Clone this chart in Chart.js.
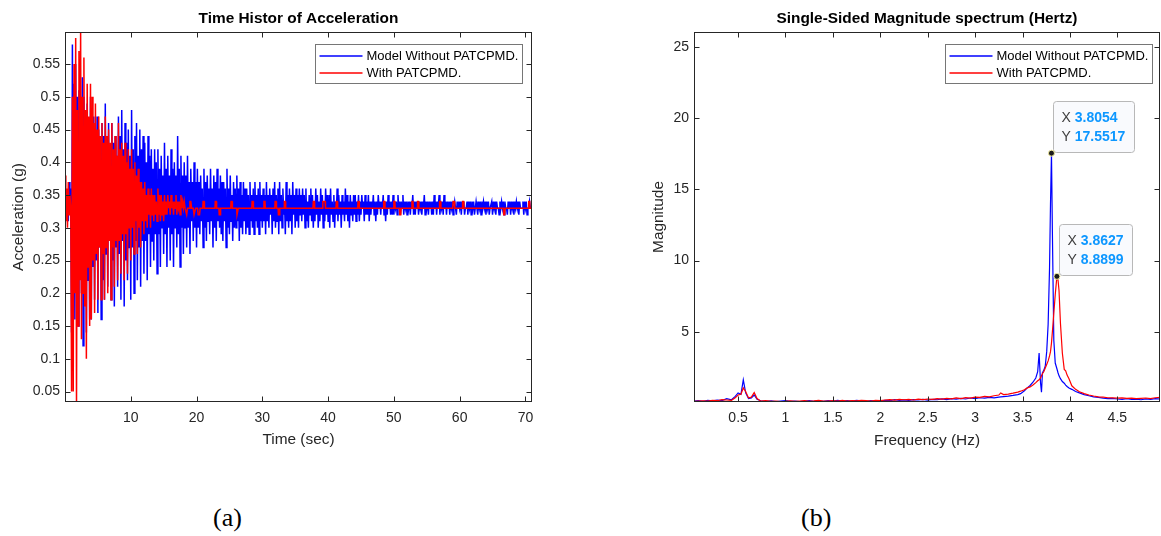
<!DOCTYPE html>
<html><head><meta charset="utf-8">
<script src="https://cdn.jsdelivr.net/npm/chart.js@4.4.1/dist/chart.umd.min.js"></script>
<style>
html,body{margin:0;padding:0;background:#fff;width:1161px;height:536px;overflow:hidden;}
#c1{position:absolute;left:0;top:0;}
#c2{position:absolute;left:600px;top:0;}
.cap{position:absolute;font-family:"Liberation Serif","Times New Roman",serif;font-size:26px;line-height:26px;color:#000;top:505px;}
</style></head><body>
<canvas id="c1" width="560" height="470"></canvas>
<canvas id="c2" width="561" height="470"></canvas>
<div class="cap" style="left:213px">(a)</div>
<div class="cap" style="left:801px">(b)</div>
<script>
// ---------- common ----------
const seriesNames = ['Model Without PATCPMD.', 'With PATCPMD.'];
const seriesColors = ['#0000ff', '#ff0000'];

// ---------- (a) time history: samples every timeStep seconds from t = 0 ----------
const timeStep = 0.125;
const timeTicks = [10, 20, 30, 40, 50, 60, 70];
const accelTicks = [0.05, 0.1, 0.15, 0.2, 0.25, 0.3, 0.35, 0.4, 0.45, 0.5, 0.55];

const accelWithout = [
0.33,0.34,0.32,0.35,0.31,0.37,0.32,0.36,0.14,0.58,0.20,0.52,0.16,0.55,0.22,0.50,
0.15,0.51,0.25,0.48,0.20,0.53,0.12,0.50,0.26,0.47,0.14,0.49,0.22,0.45,0.16,0.50,
0.16,0.46,0.24,0.47,0.19,0.42,0.25,0.47,0.17,0.45,0.27,0.43,0.16,0.46,0.22,0.44,
0.19,0.49,0.26,0.44,0.21,0.46,0.28,0.42,0.19,0.46,0.25,0.43,0.18,0.44,0.27,0.41,
0.21,0.47,0.26,0.44,0.19,0.48,0.28,0.42,0.18,0.46,0.25,0.43,0.22,0.45,0.27,0.41,
0.19,0.48,0.27,0.42,0.20,0.44,0.28,0.46,0.22,0.41,0.27,0.45,0.21,0.42,0.28,0.44,
0.23,0.43,0.28,0.40,0.22,0.44,0.29,0.41,0.24,0.42,0.28,0.39,0.25,0.42,0.29,0.40,
0.23,0.42,0.29,0.39,0.24,0.41,0.30,0.38,0.26,0.43,0.29,0.39,0.24,0.41,0.30,0.38,
0.25,0.42,0.29,0.39,0.24,0.40,0.30,0.38,0.27,0.44,0.29,0.39,0.24,0.41,0.30,0.38,
0.26,0.40,0.30,0.38,0.27,0.41,0.30,0.37,0.26,0.39,0.31,0.37,0.28,0.40,0.30,0.37,
0.27,0.39,0.30,0.37,0.29,0.38,0.31,0.36,0.27,0.39,0.30,0.37,0.28,0.38,0.31,0.36,
0.29,0.39,0.31,0.36,0.27,0.38,0.30,0.37,0.28,0.39,0.31,0.36,0.30,0.38,0.29,0.37,
0.28,0.37,0.31,0.36,0.27,0.39,0.30,0.36,0.29,0.38,0.31,0.35,0.28,0.37,0.30,0.36,
0.30,0.38,0.31,0.36,0.28,0.37,0.30,0.35,0.29,0.37,0.31,0.36,0.29,0.36,0.30,0.35,
0.29,0.37,0.31,0.35,0.30,0.36,0.29,0.37,0.31,0.35,0.30,0.36,0.29,0.37,0.31,0.35,
0.30,0.36,0.31,0.35,0.29,0.37,0.31,0.35,0.30,0.36,0.32,0.35,0.29,0.36,0.31,0.37,
0.30,0.35,0.31,0.36,0.29,0.37,0.31,0.35,0.30,0.36,0.32,0.34,0.29,0.37,0.31,0.35,
0.30,0.36,0.31,0.35,0.29,0.37,0.32,0.35,0.30,0.36,0.31,0.35,0.30,0.36,0.32,0.35,
0.31,0.36,0.32,0.35,0.30,0.36,0.31,0.34,0.30,0.35,0.32,0.36,0.31,0.35,0.30,0.34,
0.31,0.36,0.32,0.35,0.30,0.34,0.31,0.36,0.32,0.35,0.30,0.34,0.31,0.36,0.32,0.35,
0.31,0.35,0.30,0.36,0.32,0.34,0.31,0.35,0.30,0.34,0.32,0.36,0.31,0.35,0.32,0.34,
0.30,0.35,0.32,0.34,0.31,0.36,0.32,0.35,0.31,0.34,0.30,0.35,0.32,0.34,0.31,0.35,
0.32,0.35,0.31,0.34,0.32,0.35,0.31,0.34,0.32,0.35,0.33,0.34,0.31,0.35,0.32,0.34,
0.32,0.35,0.31,0.34,0.32,0.34,0.33,0.35,0.32,0.34,0.31,0.34,0.32,0.35,0.33,0.34,
0.32,0.34,0.33,0.35,0.32,0.34,0.31,0.34,0.32,0.35,0.33,0.34,0.32,0.34,0.32,0.35,
0.32,0.34,0.33,0.34,0.32,0.35,0.33,0.34,0.32,0.34,0.33,0.35,0.32,0.34,0.33,0.34,
0.32,0.34,0.33,0.34,0.32,0.34,0.33,0.35,0.32,0.34,0.32,0.34,0.33,0.34,0.32,0.34,
0.33,0.34,0.32,0.34,0.33,0.35,0.32,0.34,0.33,0.34,0.32,0.34,0.33,0.34,0.32,0.34,
0.32,0.35,0.33,0.34,0.32,0.34,0.33,0.35,0.32,0.34,0.33,0.34,0.32,0.35,0.33,0.34,
0.32,0.34,0.33,0.34,0.32,0.34,0.33,0.34,0.32,0.33,0.34,0.33,0.32,0.34,0.33,0.34,
0.33,0.34,0.32,0.34,0.33,0.34,0.32,0.33,0.33,0.34,0.32,0.34,0.33,0.34,0.32,0.34,
0.33,0.34,0.32,0.33,0.34,0.33,0.32,0.34,0.33,0.34,0.32,0.34,0.33,0.34,0.33,0.34,
0.32,0.34,0.33,0.34,0.32,0.33,0.33,0.34,0.32,0.34,0.33,0.34,0.32,0.34,0.33,0.33,
0.32,0.34,0.33,0.34,0.33,0.34,0.32,0.34,0.33,0.33,0.32,0.34,0.33,0.34,0.32,0.34,
0.33,0.34,0.32,0.34,0.33,0.34,0.33,0.34,0.32,0.34,0.33,0.33,0.33,0.34,0.32,0.34,
0.33,0.34,0.32,0.33,0.33,0.34,0.33,0.33,0.33
];
// With PATCPMD: dense samples (every timeStep) up to 20 s ...
const accelWithDense = [
0.38,0.31,0.36,0.30,0.37,0.32,0.35,0.33,0.05,0.50,0.05,0.55,0.20,0.59,0.03,0.48,
0.15,0.57,0.22,0.60,0.13,0.50,0.20,0.56,0.18,0.48,0.10,0.52,0.24,0.47,0.15,0.52,
0.16,0.50,0.25,0.46,0.17,0.49,0.26,0.45,0.19,0.47,0.27,0.44,0.19,0.46,0.26,0.43,
0.19,0.47,0.27,0.44,0.20,0.45,0.28,0.43,0.19,0.46,0.27,0.42,0.21,0.44,0.28,0.41,
0.22,0.46,0.28,0.42,0.23,0.43,0.29,0.41,0.22,0.43,0.29,0.40,0.23,0.42,0.30,0.39,
0.25,0.42,0.30,0.39,0.26,0.40,0.31,0.38,0.26,0.39,0.30,0.37,0.27,0.37,0.31,0.36,
0.29,0.37,0.31,0.35,0.30,0.36,0.32,0.35,0.30,0.36,0.32,0.35,0.31,0.35,0.32,0.34,
0.31,0.36,0.32,0.35,0.31,0.35,0.32,0.34,0.31,0.35,0.32,0.34,0.32,0.35,0.33,0.34,
0.32,0.35,0.33,0.34,0.32,0.34,0.33,0.35,0.32,0.34,0.33,0.34,0.32,0.35,0.33,0.34,
0.33,0.34,0.33,0.33,0.32,0.33,0.33,0.33,0.34,0.34,0.33,0.33,0.33,0.32,0.32,0.33,
0.33
];
// ... then a settled 0.33 g level with short steps (times in seconds)
const accelWithTailTime = [
20.15,20.25,20.45,20.55, 20.95,21.0,21.15,21.2, 22.8,22.85,23.0,23.05, 23.4,23.45,23.6,23.65,
25.2,25.25,25.4,25.45, 26.1,26.15,26.3,26.35, 28.4,28.45,28.6,28.65, 30.2,30.25,30.4,30.45,
31.9,31.95,32.1,32.15, 32.4,32.45,32.6,32.65, 33.3,33.35,33.5,33.55, 37.7,37.75,37.9,37.95,
39.15,39.2,39.55,39.6, 41.2,41.25,41.4,41.45, 44.5,44.55,44.7,44.75, 48.4,48.45,48.6,48.65,
49.95,50.0,50.15,50.2, 50.85,50.9,51.05,51.1, 52.7,52.75,52.9,52.95, 53.55,53.6,53.75,53.8,
56.9,56.95,57.1,57.15, 58.95,59.0,59.2,59.25, 60.4,60.45,60.6,60.65, 66.65,66.7,66.85,66.9,
70.45,70.5,70.65,70.7, 71.0
];
const accelWithTailValue = [
0.33,0.32,0.32,0.33, 0.33,0.34,0.34,0.33, 0.33,0.34,0.34,0.33, 0.33,0.32,0.32,0.33,
0.33,0.34,0.34,0.33, 0.33,0.32,0.32,0.33, 0.33,0.34,0.34,0.33, 0.33,0.34,0.34,0.33,
0.33,0.34,0.34,0.33, 0.33,0.32,0.32,0.33, 0.33,0.34,0.34,0.33, 0.33,0.34,0.34,0.33,
0.33,0.34,0.34,0.33, 0.33,0.34,0.34,0.33, 0.33,0.34,0.34,0.33, 0.33,0.34,0.34,0.33,
0.33,0.34,0.34,0.33, 0.33,0.32,0.32,0.33, 0.33,0.34,0.34,0.33, 0.33,0.34,0.34,0.33,
0.33,0.34,0.34,0.33, 0.33,0.34,0.34,0.33, 0.33,0.34,0.34,0.33, 0.33,0.32,0.32,0.33,
0.33,0.34,0.34,0.33, 0.33
];

// ---------- (b) single-sided magnitude spectrum ----------
const freqTicks = [0.5, 1, 1.5, 2, 2.5, 3, 3.5, 4, 4.5];
const magTicks = [5, 10, 15, 20, 25];
const freqHz = [
0.035,0.08,0.13,0.18,0.23,0.28,0.33,0.38,0.43,0.47,
0.50,0.53,0.555,0.58,0.61,0.64,0.67,0.70,0.74,0.79,
0.85,0.90,0.95,1.00,1.05,1.10,1.15,1.20,1.25,1.30,
1.35,1.40,1.45,1.50,1.55,1.60,1.65,1.70,1.75,1.80,
1.85,1.90,1.95,2.00,2.05,2.10,2.15,2.20,2.25,2.30,
2.35,2.40,2.45,2.50,2.55,2.60,2.65,2.70,2.75,2.80,
2.85,2.90,2.95,3.00,3.05,3.10,3.15,3.20,3.25,3.27,
3.30,3.35,3.40,3.45,3.48,3.52,3.55,3.58,3.61,3.64,
3.66,3.675,3.69,3.70,3.71,3.725,3.74,3.755,3.77,3.785,
3.795,3.8054,3.815,3.83,3.845,3.8627,3.875,3.885,3.90,3.92,
3.94,3.955,3.97,3.99,4.02,4.06,4.10,4.15,4.20,4.25,
4.30,4.35,4.40,4.45,4.50,4.55,4.60,4.65,4.70,4.75,
4.80,4.85,4.90,4.95
];
const specWithout = [
0.12,0.15,0.10,0.18,0.14,0.20,0.16,0.30,0.22,0.45,
0.70,0.60,1.62,0.70,0.30,0.35,0.55,0.25,0.15,0.10,
0.14,0.08,0.12,0.15,0.10,0.13,0.09,0.12,0.16,0.11,
0.14,0.10,0.15,0.12,0.17,0.13,0.16,0.12,0.18,0.14,
0.11,0.16,0.13,0.12,0.18,0.15,0.22,0.18,0.21,0.17,
0.23,0.20,0.24,0.19,0.25,0.22,0.28,0.23,0.30,0.26,
0.32,0.27,0.34,0.30,0.36,0.33,0.38,0.35,0.40,0.42,
0.44,0.47,0.52,0.58,0.65,0.85,1.05,1.22,1.45,1.75,
2.20,3.50,1.40,0.75,2.10,2.30,2.60,3.60,5.50,9.50,
14.0,17.5517,12.0,4.40,2.80,2.40,2.10,1.90,1.70,1.50,
1.38,1.25,1.15,1.05,0.95,0.80,0.70,0.58,0.50,0.42,
0.38,0.33,0.30,0.32,0.27,0.25,0.30,0.24,0.26,0.22,
0.28,0.24,0.30,0.27
];
const specWith = [
0.10,0.12,0.14,0.12,0.17,0.15,0.22,0.20,0.18,0.35,
0.55,0.60,1.05,0.80,0.35,0.40,0.72,0.30,0.12,0.15,
0.10,0.12,0.09,0.11,0.14,0.10,0.13,0.15,0.11,0.14,
0.18,0.13,0.12,0.16,0.13,0.18,0.12,0.15,0.14,0.17,
0.15,0.13,0.18,0.16,0.20,0.22,0.19,0.25,0.22,0.24,
0.20,0.26,0.23,0.27,0.24,0.30,0.26,0.32,0.28,0.35,
0.30,0.37,0.33,0.40,0.38,0.45,0.42,0.50,0.55,0.70,
0.58,0.62,0.68,0.75,0.82,0.92,1.05,1.12,1.25,1.42,
1.55,1.62,1.75,1.90,2.05,2.20,2.45,2.70,2.95,3.30,
3.60,4.20,5.00,6.30,7.60,8.8899,8.60,7.90,5.60,3.50,
2.35,2.25,1.95,1.70,1.20,0.95,0.78,0.65,0.55,0.48,
0.42,0.40,0.36,0.35,0.33,0.35,0.31,0.33,0.30,0.32,
0.34,0.30,0.36,0.38
];

// ---------- rendering ----------
const FONT = '"Liberation Sans", Arial, Helvetica, sans-serif';
Chart.defaults.font.family = FONT;
Chart.defaults.color = '#262626';
const INK = '#262626';

const matlabPlugin = {
  id: 'matlab',
  afterDraw(chart, args, opts) {
    const ctx = chart.ctx, a = chart.chartArea, sx = chart.scales.x, sy = chart.scales.y;
    ctx.save();
    const L = Math.round(a.left) + 0.5, R = Math.round(a.right) - 0.5;
    const T = Math.round(a.top) + 0.5, B = Math.round(a.bottom) - 0.5;
    ctx.strokeStyle = INK; ctx.lineWidth = 1;
    ctx.strokeRect(L, T, R - L, B - T);
    const tl = 5;
    ctx.beginPath();
    sx.ticks.forEach(t => { const p = Math.round(sx.getPixelForValue(t.value)) + 0.5;
      ctx.moveTo(p, B); ctx.lineTo(p, B - tl); ctx.moveTo(p, T); ctx.lineTo(p, T + tl); });
    sy.ticks.forEach(t => { const p = Math.round(sy.getPixelForValue(t.value)) + 0.5;
      ctx.moveTo(L, p); ctx.lineTo(L + tl, p); ctx.moveTo(R, p); ctx.lineTo(R - tl, p); });
    ctx.stroke();
    // title
    ctx.fillStyle = '#000';
    ctx.font = 'bold 15.4px ' + FONT;
    ctx.textAlign = 'center'; ctx.textBaseline = 'middle';
    ctx.fillText(opts.title, (a.left + a.right) / 2, 19);
    // data tips at each series' maximum
    if (opts.tips) {
      chart.data.datasets.forEach(ds => {
        let k = 0;
        ds.data.forEach((p, j) => { if (p.y > ds.data[k].y) k = j; });
        const pt = ds.data[k];
        const px = sx.getPixelForValue(pt.x), py = sy.getPixelForValue(pt.y);
        const xs = pt.x.toFixed(4), ys = pt.y.toFixed(4);
        ctx.font = '14px ' + FONT;
        const wX = ctx.measureText('X ').width;
        ctx.font = 'bold 14px ' + FONT;
        const wv = Math.max(ctx.measureText(xs).width, ctx.measureText(ys).width);
        const bw = Math.round(8 + wX + wv + 9), bh = 51;
        const bx = Math.round(px + 2) + 0.5, by = Math.round(py - 1.5 - bh) + 0.5;
        ctx.beginPath();
        if (ctx.roundRect) ctx.roundRect(bx, by, bw, bh, 3); else ctx.rect(bx, by, bw, bh);
        ctx.fillStyle = '#f9fafd'; ctx.fill();
        ctx.strokeStyle = '#b8b8b8'; ctx.lineWidth = 1; ctx.stroke();
        ctx.textAlign = 'left'; ctx.textBaseline = 'middle';
        ctx.font = '14px ' + FONT; ctx.fillStyle = '#404040';
        ctx.fillText('X', bx + 8, by + 17);
        ctx.fillText('Y', bx + 8, by + 35.5);
        ctx.font = 'bold 14px ' + FONT; ctx.fillStyle = '#0d97ff';
        ctx.fillText(xs, bx + 8 + wX, by + 17);
        ctx.fillText(ys, bx + 8 + wX, by + 35.5);
        ctx.beginPath(); ctx.arc(px, py, 3, 0, Math.PI * 2);
        ctx.fillStyle = '#1a1a1a'; ctx.fill();
        ctx.strokeStyle = '#f3eda0'; ctx.lineWidth = 1; ctx.stroke();
      });
    }
    // legend
    ctx.font = '13px ' + FONT;
    const tw = Math.max(...seriesNames.map(s => ctx.measureText(s).width));
    const w = Math.round(4.4 + 43 + 3.6 + tw + 4.5), h = 39;
    const x0 = Math.round(a.right - opts.legendRight - w) + 0.5, y0 = Math.round(a.top + opts.legendTop) + 0.5;
    ctx.fillStyle = '#fff'; ctx.fillRect(x0, y0, w, h);
    ctx.strokeStyle = '#767676'; ctx.lineWidth = 1; ctx.strokeRect(x0, y0, w, h);
    seriesNames.forEach((name, i) => {
      const y = Math.round(y0 + 11.5 + i * 16.6);
      ctx.strokeStyle = seriesColors[i]; ctx.lineWidth = 1.3;
      ctx.beginPath(); ctx.moveTo(x0 + 4, y); ctx.lineTo(x0 + 47, y); ctx.stroke();
      ctx.fillStyle = '#000'; ctx.textAlign = 'left'; ctx.textBaseline = 'middle';
      ctx.fillText(name, x0 + 51, y);
    });
    ctx.restore();
  }
};

function axis(cfg) {
  return {
    type: 'linear', min: cfg.min, max: cfg.max,
    grid: { display: false, drawTicks: false }, border: { display: false },
    ticks: { color: INK, font: { size: 14, family: FONT }, padding: cfg.pad, autoSkip: false, maxRotation: 0,
             callback: v => String(v) },
    afterBuildTicks: s => { s.ticks = cfg.ticks.map(v => ({ value: v })); },
    afterFit: cfg.fit,
    title: { display: true, text: cfg.title, color: INK, font: { size: 15.4, family: FONT }, padding: cfg.tpad }
  };
}

function baseOptions(o) {
  return {
    responsive: false, animation: false, devicePixelRatio: 1,
    layout: { padding: o.padding },
    elements: { point: { radius: 0 }, line: { tension: 0, borderWidth: 1 } },
    plugins: { legend: { display: false }, tooltip: { enabled: false }, title: { display: false },
               matlab: o.matlab },
    scales: { x: o.x, y: o.y }
  };
}

const blueTime = accelWithout.map((v, i) => ({ x: i * timeStep, y: v }));
const redTime = accelWithDense.map((v, i) => ({ x: i * timeStep, y: v }))
  .concat(accelWithTailTime.map((t, i) => ({ x: t, y: accelWithTailValue[i] })));

new Chart(document.getElementById('c1'), {
  type: 'line',
  data: { datasets: [
    { label: seriesNames[0], data: blueTime, borderColor: seriesColors[0], borderWidth: 1.5, order: 2, fill: false },
    { label: seriesNames[1], data: redTime, borderColor: seriesColors[1], borderWidth: 1.5, order: 1, fill: false }
  ]},
  options: baseOptions({
    padding: { left: 0, top: 32, right: 28, bottom: 0 },
    matlab: { title: 'Time Histor of Acceleration', legendRight: 10, legendTop: 12, tips: false },
    x: axis({ min: 0, max: 71, ticks: timeTicks, pad: 8, title: 'Time (sec)', tpad: { top: 0, bottom: 21.5 }, fit: s => { s.height = 68; } }),
    y: axis({ min: 0.034, max: 0.599, ticks: accelTicks, pad: 5, title: 'Acceleration (g)', tpad: { top: 10, bottom: 0 }, fit: s => { s.width = 65; } })
  }),
  plugins: [matlabPlugin]
});

new Chart(document.getElementById('c2'), {
  type: 'line',
  data: { datasets: [
    { label: seriesNames[0], data: freqHz.map((f, i) => ({ x: f, y: specWithout[i] })), borderColor: seriesColors[0], borderWidth: 1.2, order: 2, fill: false },
    { label: seriesNames[1], data: freqHz.map((f, i) => ({ x: f, y: specWith[i] })), borderColor: seriesColors[1], borderWidth: 1.2, order: 1, fill: false }
  ]},
  options: baseOptions({
    padding: { left: 0, top: 32, right: 1, bottom: 0 },
    matlab: { title: 'Single-Sided Magnitude spectrum (Hertz)', legendRight: 8.5, legendTop: 12, tips: true },
    x: axis({ min: 0.035, max: 4.95, ticks: freqTicks, pad: 8, title: 'Frequency (Hz)', tpad: { top: 0, bottom: 20.5 }, fit: s => { s.height = 68; } }),
    y: axis({ min: 0.06, max: 26.07, ticks: magTicks, pad: 5, title: 'Magnitude', tpad: { top: 49.5, bottom: 0 }, fit: s => { s.width = 94; } })
  }),
  plugins: [matlabPlugin]
});
</script>
</body></html>
